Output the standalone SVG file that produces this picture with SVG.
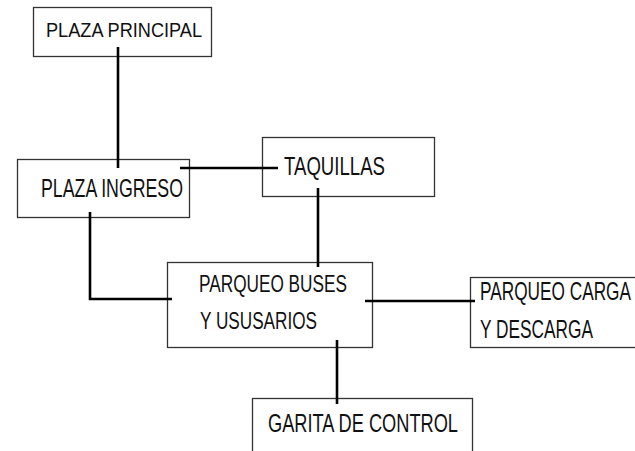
<svg xmlns="http://www.w3.org/2000/svg" width="635" height="451" viewBox="0 0 635 451">
<style>
.box{fill:#fff;stroke:#333;stroke-width:1.3}
.lbl{font-family:"Liberation Sans",Arial,sans-serif;font-size:25.5px;fill:#111}
.con{fill:none;stroke:#000;stroke-width:2.6}
</style>
<rect width="635" height="451" fill="#fff"/>
<g id="plaza-principal">
<rect class="box" x="33.5" y="7.5" width="178" height="49"/>
<text class="lbl" x="46" y="37" style="font-size:21px" textLength="156" lengthAdjust="spacingAndGlyphs">PLAZA PRINCIPAL</text>
</g>
<g id="plaza-ingreso">
<rect class="box" x="17.5" y="159.5" width="172" height="58"/>
<text class="lbl" x="41" y="197" textLength="142" lengthAdjust="spacingAndGlyphs">PLAZA INGRESO</text>
</g>
<g id="taquillas">
<rect class="box" x="262.5" y="137.5" width="172" height="59"/>
<text class="lbl" x="284" y="175" textLength="101" lengthAdjust="spacingAndGlyphs">TAQUILLAS</text>
</g>
<g id="parqueo-buses">
<rect class="box" x="167.5" y="262.5" width="205" height="85"/>
<text class="lbl" x="199" y="292" style="font-size:24px" textLength="148" lengthAdjust="spacingAndGlyphs">PARQUEO BUSES</text>
<text class="lbl" x="200" y="329" style="font-size:24px" textLength="117" lengthAdjust="spacingAndGlyphs">Y USUSARIOS</text>
</g>
<g id="parqueo-carga">
<rect class="box" x="470.5" y="277.5" width="170" height="70"/>
<text class="lbl" x="480" y="300" textLength="151" lengthAdjust="spacingAndGlyphs">PARQUEO CARGA</text>
<text class="lbl" x="480" y="338" textLength="113" lengthAdjust="spacingAndGlyphs">Y DESCARGA</text>
</g>
<g id="garita">
<rect class="box" x="252.5" y="398.5" width="220" height="60"/>
<text class="lbl" x="268" y="432" textLength="190" lengthAdjust="spacingAndGlyphs">GARITA DE CONTROL</text>
</g>
<g id="connectors">
<line class="con" x1="118" y1="47" x2="118" y2="168"/>
<line class="con" x1="180" y1="168" x2="278" y2="168"/>
<line class="con" x1="318" y1="188" x2="318" y2="267"/>
<polyline class="con" points="90,212 90,299 172,299"/>
<line class="con" x1="365" y1="301" x2="475" y2="301"/>
<line class="con" x1="337" y1="340" x2="337" y2="404"/>
</g>
</svg>
